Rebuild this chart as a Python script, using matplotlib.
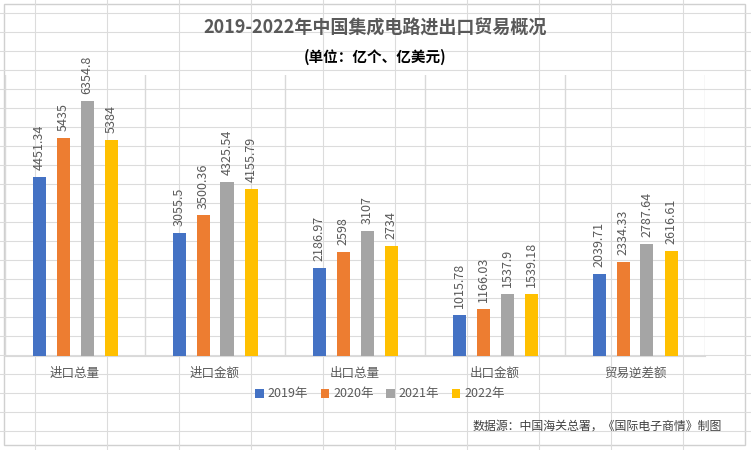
import matplotlib.pyplot as plt
from matplotlib.lines import Line2D
from matplotlib.patches import Rectangle
import numpy as np

plt.rcParams['font.family'] = ['Noto Sans CJK SC', 'DejaVu Sans']

categories = ['进口总量', '进口金额', '出口总量', '出口金额', '贸易逆差额']
years = ['2019年', '2020年', '2021年', '2022年']
v2019 = [4451.34, 3055.5, 2186.97, 1015.78, 2039.71]
v2020 = [5435, 3500.36, 2598, 1166.03, 2334.33]
v2021 = [6354.8, 4325.54, 3107, 1537.9, 2787.64]
v2022 = [5384, 4155.79, 2734, 1539.18, 2616.61]
series = [v2019, v2020, v2021, v2022]
colors = ['#4472C4', '#ED7D31', '#A5A5A5', '#FFC000']

W, H = 751, 450
fig = plt.figure(figsize=(W / 100, H / 100), dpi=100)

# spreadsheet cells behind the chart
cell = '#dcdcdc'
for x in range(35, W, 72):
    fig.add_artist(Line2D([x / W, x / W], [0, 1], color=cell, lw=0.8))
for y in range(13, H, 19):
    fig.add_artist(Line2D([0, 1], [1 - y / H, 1 - y / H], color=cell, lw=0.8))
fig.add_artist(Rectangle((4 / W, 1 - 445 / H), 741 / W, 441 / H, facecolor='white',
                         edgecolor='#d0d0d0', lw=1, zorder=1))

ax = fig.add_axes([5 / W, 1 - 356 / H, 700 / W, 281 / H], zorder=2)
ax.patch.set_alpha(0)

x = np.arange(len(categories))
pitch = 24 / 140
bw = 13 / 140
for i, (vals, c, yr) in enumerate(zip(series, colors, years)):
    pos = x + (i - 1.5) * pitch
    ax.bar(pos, vals, width=bw, color=c, label=yr, zorder=3)
    for px, v in zip(pos, vals):
        ax.annotate(f'{v:g}', (px, v), xytext=(0, 5), textcoords='offset points',
                    rotation=90, ha='center', va='bottom', fontsize=9, color='#595959')

ax.set_xlim(-0.5, len(categories) - 0.5)
ax.set_ylim(0, 7000)
for b in np.arange(-0.5, len(categories), 1.0):
    ax.axvline(b, color='#d9d9d9', lw=1, zorder=1)
for s in ['top', 'right', 'left']:
    ax.spines[s].set_visible(False)
ax.spines['bottom'].set_color('#d9d9d9')
ax.set_yticks([])
ax.set_xticks(x)
ax.set_xticklabels(categories, fontsize=9, color='#595959')
ax.tick_params(axis='x', length=0, pad=8)

fig.text(375 / W, 1 - 28 / H, '2019-2022年中国集成电路进出口贸易概况', ha='center', va='center',
         fontsize=13, fontweight='bold', color='#595959', zorder=5)
fig.text(375 / W, 1 - 57 / H, '(单位：亿个、亿美元)', ha='center', va='center',
         fontsize=10.5, fontweight='bold', color='black', zorder=5)

leg = ax.legend(loc='center', bbox_to_anchor=(375 / 700, (356 - 394) / 281), ncol=4,
                frameon=False, fontsize=9, handlelength=0.7, handleheight=0.7,
                handletextpad=0.3, columnspacing=1.0)
for t in leg.get_texts():
    t.set_color('#595959')

fig.text(722 / W, 1 - 426 / H, '数据源：中国海关总署，《国际电子商情》制图', ha='right', va='center',
         fontsize=8.6, color='#404040', zorder=5)

fig.savefig('out.png', dpi=100)
